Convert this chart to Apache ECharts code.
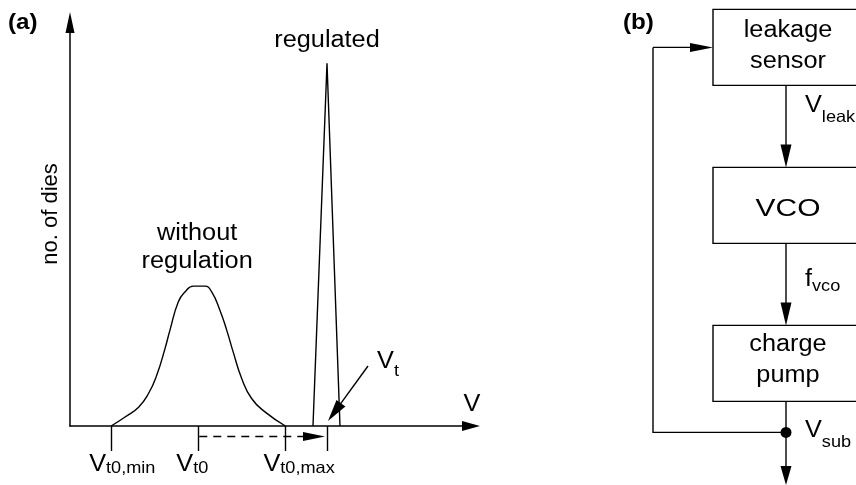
<!DOCTYPE html>
<html><head><meta charset="utf-8">
<script src="https://cdn.jsdelivr.net/npm/echarts@6/dist/echarts.min.js"></script>
<style>html,body{margin:0;padding:0;background:#fff}#c{width:856px;height:485px}</style>
</head><body><div id="c"></div>
<script>
// ---------- data: panel (a) ----------
const withoutRegV = [-1.00,-0.84,-0.685,-0.573,-0.477,-0.382,-0.325,-0.229,-0.153,-0.057,0.077,0.154,0.249,0.326,0.401,0.498,0.612,0.765,1.00];
const withoutRegN = [0,2.3,4.8,8.2,12.9,19.7,24.4,31.6,34.1,35.6,35.6,34.1,29.4,24.4,18.8,12.1,7.0,3.6,0];
const regulatedV = [1.316,1.477,1.626];
const regulatedN = [0,92.3,0];
const tickValues = [-1, 0, 1, 1.477];
const tickLabelBase = ['V', 'V', 'V'];
const tickLabelSub = ['t0,min', 't0', 't0,max'];
const vtValue = 1.477;
const vtLabel = ['V', 't'];
const curveLabels = ['without\nregulation', 'regulated'];
const axisNames = ['no. of dies', 'V'];
const panelLabels = ['(a)', '(b)'];
// ---------- data: panel (b) ----------
const blocks = ['leakage\nsensor', 'VCO', 'charge\npump'];
const signalBase = ['V', 'f', 'V'];
const signalSub = ['leak', 'vco', 'sub'];

// ---------- styling helpers ----------
const FONT = '"Liberation Sans", Arial, Helvetica, sans-serif';
const FS = 23, FSUB = 16.5, SX = 1.1, INK = '#000', LW = 1.4;
const mctx = document.createElement('canvas').getContext('2d');
function textW(s, size, weight) { mctx.font = (weight || 'normal') + ' ' + size + 'px ' + FONT; return mctx.measureText(s).width; }
function T(x, y, text, o) {
  o = o || {};
  const style = { text: text, fill: INK, fontFamily: FONT, fontSize: o.size || FS, fontWeight: o.weight || 'normal',
    align: o.align || 'left', verticalAlign: 'middle' };
  if (o.lh) style.lineHeight = o.lh;
  return { type: 'text', x: x, y: y, rotation: o.rot || 0, scaleX: o.sx == null ? SX : o.sx, silent: true, style: style };
}
function subLabel(x, y, base, sub, d) {
  const w = textW(base, FS) * SX;
  return [T(x, y, base), T(x + w, y + 0.3465 * (FS - FSUB) + d, sub, { size: FSUB })];
}
function arrow(x1, y1, x2, y2, len, wid, dash) {
  const dx = x2 - x1, dy = y2 - y1, L = Math.hypot(dx, dy), ux = dx / L, uy = dy / L;
  const bx = x2 - ux * len, by = y2 - uy * len;
  const ls = { stroke: INK, lineWidth: LW };
  if (dash) ls.lineDash = dash;
  return [
    { type: 'line', silent: true, shape: { x1: x1, y1: y1, x2: bx + ux * 2, y2: by + uy * 2 }, style: ls },
    { type: 'polygon', silent: true, shape: { points: [[x2, y2], [bx - uy * wid / 2, by + ux * wid / 2], [bx + uy * wid / 2, by - ux * wid / 2]] }, style: { fill: INK } }
  ];
}

function renderA(params, api) {
  const ch = [];
  ch.push(T(8, 23, panelLabels[0], { weight: 'bold', size: 22 }));
  const o = api.coord([0, 0]);
  ch.push(T(51, 214, axisNames[0], { rot: Math.PI / 2, align: 'center', sx: 1, size: 22 }));
  const xEnd = api.coord([3.026, 0]);
  ch.push(T(xEnd[0] + 10, xEnd[1] - 21, axisNames[1], { align: 'center' }));
  tickLabelBase.forEach(function (b, k) {
    const p = api.coord([tickValues[k], 0]);
    ch.push.apply(ch, subLabel(p[0] - 22, p[1] + 39, b, tickLabelSub[k], 1.5));
  });
  let pk = 0; withoutRegN.forEach(function (v, k) { if (v > withoutRegN[pk]) pk = k; });
  const gp = api.coord([(withoutRegV[pk] + withoutRegV[pk + 1]) / 2, withoutRegN[pk]]);
  ch.push(T(gp[0] - 2, gp[1] - 38, curveLabels[0], { align: 'center', lh: 28 }));
  const rp = api.coord([regulatedV[1], regulatedN[1]]);
  ch.push(T(rp[0], rp[1] - 23, curveLabels[1], { align: 'center' }));
  const vt = api.coord([vtValue, 0]);
  ch.push.apply(ch, subLabel(vt[0] + 50, vt[1] - 64.3, vtLabel[0], vtLabel[1], 7.7));
  ch.push.apply(ch, arrow(vt[0] + 41, vt[1] - 60, vt[0] + 1, vt[1] - 5, 22, 11));
  ch.push.apply(ch, arrow(o[0] + 1, o[1] + 10.5, vt[0] - 2, o[1] + 10.5, 22, 9, [8, 6]));
  return { type: 'group', children: ch };
}

function renderB(params, api) {
  const i = params.dataIndex, ch = [];
  const c = api.coord([0.5, i]);
  const L = api.coord([0, i])[0], R = api.coord([1, i])[0];
  const H = 38, top = c[1] - H, bot = c[1] + H;
  const textDy = [-1.5, 4.5, -3], sigDy = [20, 36, 29], sigSubD = [10, 5, 10];
  ch.push({ type: 'rect', silent: true, shape: { x: L, y: top, width: R - L, height: 2 * H }, style: { fill: '#fff', stroke: INK, lineWidth: LW } });
  ch.push(T(c[0] + 2, c[1] + textDy[i], blocks[i], { align: 'center', lh: 31, sx: i === 1 ? 1.3 : SX }));
  const last = i === blocks.length - 1;
  const nextTop = last ? 485 : api.coord([0.5, i + 1])[1] - H;
  ch.push.apply(ch, arrow(c[0], bot, c[0], nextTop, last ? 19 : 23, 11));
  ch.push.apply(ch, subLabel(c[0] + 19, bot + sigDy[i], signalBase[i], signalSub[i], sigSubD[i]));
  if (last) {
    const jy = bot + 31, fx = L - 60, c0y = api.coord([0.5, 0])[1];
    ch.push({ type: 'polyline', silent: true, shape: { points: [[c[0], jy], [fx, jy], [fx, c0y]] }, style: { stroke: INK, lineWidth: LW, fill: null } });
    ch.push.apply(ch, arrow(fx, c0y, L, c0y, 23, 9));
    ch.push({ type: 'circle', silent: true, shape: { cx: c[0], cy: jy, r: 5.5 }, style: { fill: INK } });
  }
  if (i === 0) ch.push(T(623, 23, panelLabels[1], { weight: 'bold', size: 22 }));
  return { type: 'group', children: ch };
}

const chart = echarts.init(document.getElementById('c'), null, { renderer: 'canvas' });
chart.setOption({
  animation: false,
  backgroundColor: '#fff',
  grid: [
    { left: 70, top: 33, width: 392, height: 393, containLabel: false, outerBoundsMode: 'none' },
    { left: 713, top: 0, width: 146, height: 474, containLabel: false, outerBoundsMode: 'none' }
  ],
  xAxis: [
    { gridIndex: 0, type: 'value', min: -1.472, max: 3.026,
      axisLine: { show: true, onZero: false, lineStyle: { color: INK, width: 1.5 }, symbol: ['none', 'triangle'], symbolSize: [10, 18], symbolOffset: [0, 9] },
      axisTick: { show: true, customValues: tickValues, length: 25, lineStyle: { color: INK, width: LW } },
      axisLabel: { show: false }, splitLine: { show: false } },
    { gridIndex: 1, type: 'value', min: 0, max: 1, show: false }
  ],
  yAxis: [
    { gridIndex: 0, type: 'value', min: 0, max: 100,
      axisLine: { show: true, onZero: false, lineStyle: { color: INK, width: 1.5 }, symbol: ['none', 'triangle'], symbolSize: [9, 21], symbolOffset: [0, 10.5] },
      axisTick: { show: false }, axisLabel: { show: false }, splitLine: { show: false } },
    { gridIndex: 1, type: 'value', min: -0.3, max: 2.7, inverse: true, show: false }
  ],
  series: [
    { name: 'without regulation', type: 'line', xAxisIndex: 0, yAxisIndex: 0, smooth: 0.5, symbol: 'none',
      lineStyle: { color: INK, width: LW }, data: withoutRegV.map(function (v, k) { return [v, withoutRegN[k]]; }) },
    { name: 'regulated', type: 'line', xAxisIndex: 0, yAxisIndex: 0, symbol: 'none',
      lineStyle: { color: INK, width: LW }, data: regulatedV.map(function (v, k) { return [v, regulatedN[k]]; }) },
    { type: 'custom', xAxisIndex: 0, yAxisIndex: 0, clip: false, renderItem: renderA, data: [[0, 0]], z: 5 },
    { type: 'custom', xAxisIndex: 1, yAxisIndex: 1, clip: false, renderItem: renderB,
      data: blocks.map(function (b, i) { return [0.5, i]; }), z: 5 }
  ]
});
</script></body></html>
